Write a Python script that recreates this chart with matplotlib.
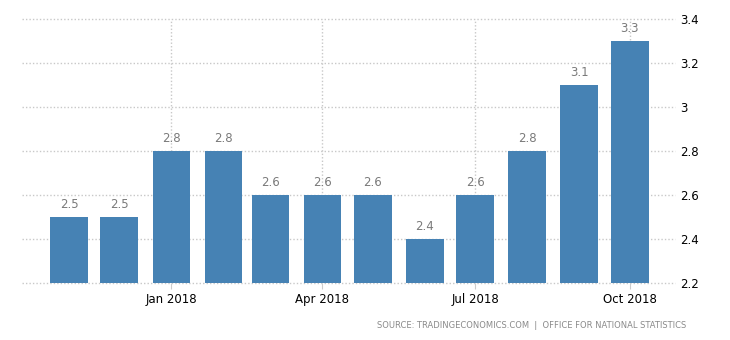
import numpy as np
import pandas as pd
import matplotlib
matplotlib.use("Agg")
import matplotlib.pyplot as plt
import matplotlib.dates as mdates

# monthly inflation rate, %
months = pd.date_range("2017-11-01", "2018-10-01", freq="MS")
values = [2.5, 2.5, 2.8, 2.8, 2.6, 2.6, 2.6, 2.4, 2.6, 2.8, 3.1, 3.3]
tick_dates = pd.to_datetime(["2018-01-01", "2018-04-01", "2018-07-01", "2018-10-01"])
tick_labels = ["Jan 2018", "Apr 2018", "Jul 2018", "Oct 2018"]
yticks = [2.2, 2.4, 2.6, 2.8, 3.0, 3.2, 3.4]

fig = plt.figure(figsize=(7.3, 3.4), dpi=100)
ax = fig.add_axes([22 / 730, 1 - 283 / 340, (675 - 22) / 730, (283 - 19) / 340])

ax.bar(months, values, width=22.5, bottom=0, color="#4682B4", zorder=2)

for d, v in zip(months, values):
    ax.text(d, v + 0.057, f"{v:g}", ha="center", va="center",
            fontsize=8.5, color="#7a7a7a", zorder=3)

ax.set_ylim(2.2, 3.4)
ax.set_xlim(pd.Timestamp("2017-10-04"), pd.Timestamp("2018-10-28"))

ax.yaxis.tick_right()
ax.set_yticks(yticks)
ax.set_yticklabels([f"{t:g}" for t in yticks], fontsize=8.5, color="black")
ax.tick_params(axis="y", length=0, pad=4)

ax.set_xticks(tick_dates)
ax.set_xticklabels(tick_labels, fontsize=8.5, color="black")
ax.tick_params(axis="x", length=4, color="#cccccc", pad=3)

ax.grid(True, linestyle=(0, (1, 1.5)), color="#c8c8c8", linewidth=1, zorder=0)
ax.set_axisbelow(True)
for gl in ax.get_ygridlines():
    gl.set_clip_on(False)
for s in ax.spines.values():
    s.set_visible(False)

fig.text(686 / 730, 1 - 325 / 340, "SOURCE: TRADINGECONOMICS.COM  |  OFFICE FOR NATIONAL STATISTICS",
         ha="right", va="center", fontsize=6, color="#8a8a8a")

fig.savefig("out.png", dpi=100)
